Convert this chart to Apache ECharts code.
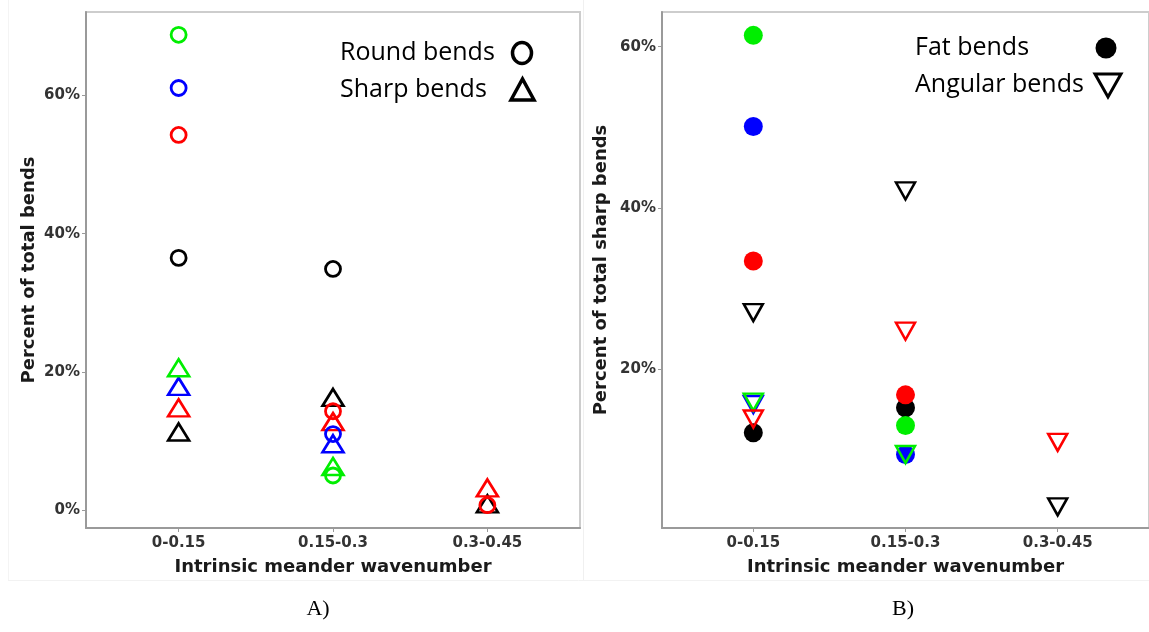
<!DOCTYPE html>
<html>
<head>
<meta charset="utf-8">
<script src="https://cdn.jsdelivr.net/npm/echarts@6/dist/echarts.min.js"></script>
<style>
html,body{margin:0;padding:0;background:#fff;}
#chart{width:1149px;height:632px;}
</style>
</head>
<body>
<div id="chart"></div>
<script>
// ---------- data ----------
const categories = ['0-0.15', '0.15-0.3', '0.3-0.45'];
const yTicksA = [0, 20, 40, 60];
const yTicksB = [20, 40, 60];

// Panel A: percent of total bends
const roundBlack = [36.5, 34.9, null];
const roundBlue  = [61.1, 11.0, null];
const roundGreen = [68.8, 5.0, null];
const roundRed   = [54.3, 14.3, 0.7];
const sharpBlack = [11.3, 16.3, 0.9];
const sharpBlue  = [17.9, 9.6, null];
const sharpGreen = [20.6, 6.3, null];
const sharpRed   = [14.8, 12.8, 3.2];

// Panel B: percent of total sharp bends
const fatBlack = [12.1, 15.2, null];
const fatBlue  = [50.1, 9.4, null];
const fatGreen = [61.4, 13.0, null];
const fatRed   = [33.4, 16.8, null];
const angularBlack = [27.0, 42.1, 2.9];
const angularBlue  = [15.6, null, null];
const angularGreen = [15.9, 9.4, null];
const angularRed   = [13.8, 24.7, 10.9];

// ---------- helpers ----------
const COL = {black:'#000000', blue:'#0000ff', green:'#00ee00', red:'#ff0000'};
function pts(arr){
  const out = [];
  arr.forEach((v,i)=>{ if(v!==null) out.push([i+1, v]); });
  return out;
}
function hollow(name, arr, color, symbol, size, rot, bw, gi){
  return {
    name, type:'scatter', xAxisIndex:gi, yAxisIndex:gi, data:pts(arr),
    symbol, symbolSize:size, symbolRotate:rot||0, silent:true,
    itemStyle:{color:'rgba(0,0,0,0)', borderColor:color, borderWidth:bw, opacity:1}
  };
}
function filled(name, arr, color, size, gi){
  return {
    name, type:'scatter', xAxisIndex:gi, yAxisIndex:gi, data:pts(arr),
    symbol:'circle', symbolSize:size, silent:true,
    itemStyle:{color:color, opacity:1}
  };
}

const tickFont = {fontFamily:'"DejaVu Sans"', fontWeight:'bold', fontSize:15, color:'#333333'};
const titleFont = {fontFamily:'"DejaVu Sans"', fontWeight:'bold', fontSize:18, color:'#1a1a1a'};

function xAx(gi){
  return {
    gridIndex:gi, type:'value', min:0.4, max:3.6,
    axisLine:{show:true, onZero:false, lineStyle:{color:'#9a9a9a', width:2}},
    axisTick:{show:true, customValues:[1,2,3], length:4, lineStyle:{color:'#9a9a9a', width:1}},
    axisLabel:Object.assign({customValues:[1,2,3], margin:8,
      formatter:(v)=>categories[Math.round(v)-1]}, tickFont),
    splitLine:{show:false},
    name:'Intrinsic meander wavenumber', nameLocation:'middle', nameGap:30,
    nameTextStyle:titleFont
  };
}
function yAx(gi, min, max, ticks, title, gap){
  return {
    gridIndex:gi, type:'value', min:min, max:max,
    axisLine:{show:true, onZero:false, lineStyle:{color:'#9a9a9a', width:2}},
    axisTick:{show:true, customValues:ticks, length:4, lineStyle:{color:'#9a9a9a', width:1}},
    axisLabel:Object.assign({customValues:ticks, margin:6, formatter:(v)=>v+'%'}, tickFont),
    splitLine:{show:false},
    name:title, nameLocation:'middle', nameGap:gap, nameRotate:90,
    nameTextStyle:titleFont
  };
}

const chart = echarts.init(document.getElementById('chart'), null, {renderer:'canvas'});

const triA = [21, 17], triB = [19, 17];
const series = [
  // Panel A
  hollow('Sharp black', sharpBlack, COL.black, 'triangle', triA, 0, 2.6, 0),
  hollow('Sharp blue',  sharpBlue,  COL.blue,  'triangle', triA, 0, 2.6, 0),
  hollow('Sharp green', sharpGreen, COL.green, 'triangle', triA, 0, 2.6, 0),
  hollow('Sharp red',   sharpRed,   COL.red,   'triangle', triA, 0, 2.6, 0),
  hollow('Round black', roundBlack, COL.black, 'circle', 15, 0, 2.8, 0),
  hollow('Round blue',  roundBlue,  COL.blue,  'circle', 15, 0, 2.8, 0),
  hollow('Round green', roundGreen, COL.green, 'circle', 15, 0, 2.8, 0),
  hollow('Round red',   roundRed,   COL.red,   'circle', 15, 0, 2.8, 0),
  // Panel B
  filled('Fat black', fatBlack, COL.black, 19, 1),
  filled('Fat blue',  fatBlue,  COL.blue,  19, 1),
  filled('Fat green', fatGreen, COL.green, 19, 1),
  filled('Fat red',   fatRed,   COL.red,   19, 1),
  hollow('Angular black', angularBlack, COL.black, 'triangle', triB, 180, 2.5, 1),
  hollow('Angular blue',  angularBlue,  COL.blue,  'triangle', triB, 180, 2.5, 1),
  hollow('Angular green', angularGreen, COL.green, 'triangle', triB, 180, 2.5, 1),
  hollow('Angular red',   angularRed,   COL.red,   'triangle', triB, 180, 2.5, 1)
];

const legendFont = '25px "Open Sans"';
function txt(text, x, y, font, align){
  return {type:'text', x:x, y:y, silent:true, z:100,
    style:{text:text, font:font, fill:'#000', align:align||'left', verticalAlign:'middle',
           textAlign:align||'left', textVerticalAlign:'middle'}};
}

const option = {
  animation:false,
  backgroundColor:'#ffffff',
  grid:[
    {left:86, top:12, width:494, height:516, show:true, borderColor:'#cdcdcd', borderWidth:2, backgroundColor:'#fff'},
    {left:662, top:12, width:496, height:516, show:true, borderColor:'#cdcdcd', borderWidth:2, backgroundColor:'#fff'}
  ],
  xAxis:[xAx(0), xAx(1)],
  yAxis:[
    yAx(0, -2.6, 72.1, yTicksA, 'Percent of total bends', 48),
    yAx(1, 0.28, 64.3, yTicksB, 'Percent of total sharp bends', 52)
  ],
  series:series,
  graphic:[
    // faint panel image edges
    {type:'line', silent:true, z:-1, shape:{x1:583.5, y1:0, x2:583.5, y2:580}, style:{stroke:'#f0f0f0', lineWidth:1}},
    {type:'line', silent:true, z:-1, shape:{x1:8, y1:580.5, x2:1149, y2:580.5}, style:{stroke:'#f2f2f2', lineWidth:1}},
    {type:'line', silent:true, z:-1, shape:{x1:8.5, y1:0, x2:8.5, y2:580}, style:{stroke:'#f4f4f4', lineWidth:1}},
    // legend A
    txt('Round bends', 340, 53, legendFont),
    txt('Sharp bends', 340, 90, legendFont),
    {type:'ellipse', silent:true, z:100, shape:{cx:522, cy:53, rx:9.5, ry:10.5}, style:{fill:'none', stroke:'#000', lineWidth:3.5}},
    {type:'polygon', silent:true, z:100, shape:{points:[[511,100],[522.5,79],[534,100]]}, style:{fill:'none', stroke:'#000', lineWidth:3.5, lineJoin:'miter'}},
    // legend B
    txt('Fat bends', 915, 48, legendFont),
    txt('Angular bends', 915, 85, legendFont),
    {type:'circle', silent:true, z:100, shape:{cx:1106, cy:48, r:10.5}, style:{fill:'#000'}},
    {type:'polygon', silent:true, z:100, shape:{points:[[1095,74],[1121,74],[1108,97]]}, style:{fill:'none', stroke:'#000', lineWidth:3, lineJoin:'miter'}},
    // panel labels
    txt('A)', 318, 609, '22px "Liberation Serif"', 'center'),
    txt('B)', 903, 609, '22px "Liberation Serif"', 'center')
  ]
};
chart.setOption(option);
</script>
</body>
</html>
